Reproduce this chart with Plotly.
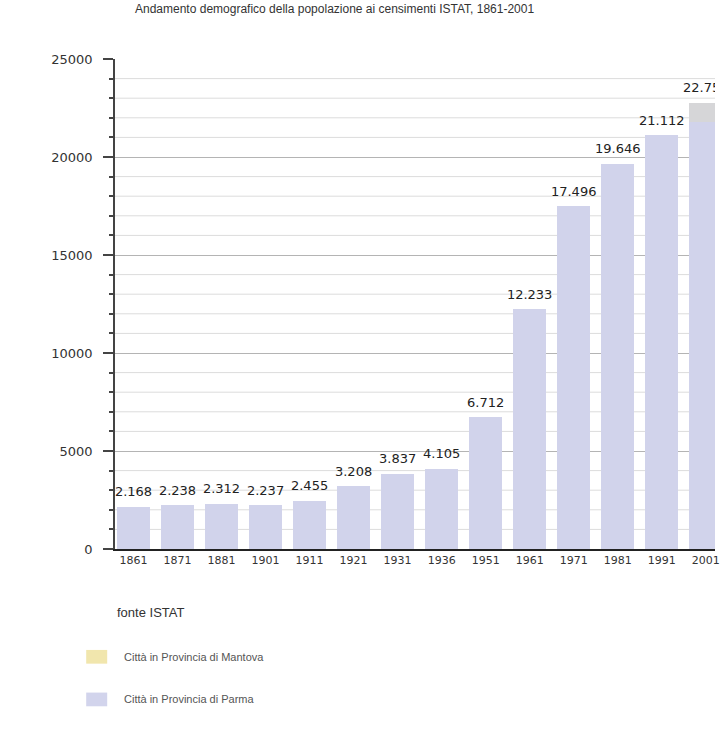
import plotly.graph_objects as go

# Censimenti ISTAT
anni = ["1861", "1871", "1881", "1901", "1911", "1921", "1931",
        "1936", "1951", "1961", "1971", "1981", "1991", "2001"]
popolazione = [2168, 2238, 2312, 2237, 2455, 3208, 3837,
               4105, 6712, 12233, 17496, 19646, 21112, 22757]
# quota superiore evidenziata in grigio (solo ultimo censimento)
quota_grigia = [0, 0, 0, 0, 0, 0, 0, 0, 0, 0, 0, 0, 0, 970]

y_ticks = [0, 5000, 10000, 15000, 20000, 25000]
legenda = ["Città in Provincia di Mantova", "Città in Provincia di Parma"]
colori_legenda = ["#f1e6ad", "#d2d4ec"]

LAVANDA = "#d1d3eb"
GRIGIO = "#d6d6d8"
FONT = "DejaVu Sans, Liberation Sans, Arial"

base = [p - g for p, g in zip(popolazione, quota_grigia)]
etichette = [f"{v:,}".replace(",", ".") for v in popolazione]

fig = go.Figure()
fig.add_trace(go.Bar(x=anni, y=base, marker=dict(color=LAVANDA, line_width=0),
                     hoverinfo="skip", showlegend=False))
fig.add_trace(go.Bar(x=anni, y=quota_grigia, marker=dict(color=GRIGIO, line_width=0),
                     hoverinfo="skip", showlegend=False))
# etichette dei valori sopra le barre (marker invisibile per distanziarle)
fig.add_trace(go.Scatter(x=anni, y=popolazione, mode="markers+text", text=etichette,
                         textposition="top center",
                         marker=dict(size=10, opacity=0),
                         textfont=dict(family=FONT, size=13, color="#222"),
                         hoverinfo="skip", showlegend=False))

# linee di griglia minori ogni 1000
for v in range(1000, 25000, 1000):
    if v % 5000:
        fig.add_hline(y=v, line=dict(color="#dcdcdc", width=1), layer="below")

fig.update_layout(
    width=720, height=734,
    margin=dict(l=115, r=0, t=59, b=185),
    paper_bgcolor="white", plot_bgcolor="white",
    barmode="stack", bargap=0.26,
    font=dict(family=FONT, color="#333"),
)
fig.update_xaxes(
    type="category", range=[-0.42, 13.21],
    showline=True, linecolor="#222", linewidth=2,
    ticks="", tickfont=dict(size=11, color="#333"),
    showgrid=False, fixedrange=True,
)
fig.update_yaxes(
    range=[0, 25000], tickvals=y_ticks, ticktext=[str(v) for v in y_ticks],
    showline=True, linecolor="#444", linewidth=1.5,
    ticks="outside", ticklen=10, tickcolor="#444", tickwidth=1.5,
    ticklabelstandoff=8,
    minor=dict(dtick=1000, ticks="outside", ticklen=4, tickcolor="#444", showgrid=False),
    showgrid=True, gridcolor="#b4b4b4", gridwidth=1,
    tickfont=dict(size=13, color="#333"), zeroline=False, fixedrange=True,
)

# titolo
fig.add_annotation(text="Andamento demografico della popolazione ai censimenti ISTAT, 1861-2001",
                   xref="paper", yref="paper", x=0.03, y=1.0, yshift=59,
                   xanchor="left", yanchor="top", showarrow=False,
                   font=dict(family="Liberation Sans, Arial", size=12, color="#333"))

# fonte e legenda
fig.add_annotation(text="fonte ISTAT", xref="paper", yref="paper",
                   x=0.0, y=-0.13, xanchor="left", yanchor="middle", showarrow=False,
                   font=dict(family="Liberation Sans, Arial", size=13, color="#333"))
leg_y = [-0.22, -0.307]
for nome, col, yy in zip(legenda, colori_legenda, leg_y):
    fig.add_shape(type="rect", xref="paper", yref="paper",
                  x0=-0.048, x1=-0.013, y0=yy - 0.014, y1=yy + 0.014,
                  fillcolor=col, line_width=0)
    fig.add_annotation(text=nome, xref="paper", yref="paper",
                       x=0.012, y=yy, xanchor="left", yanchor="middle", showarrow=False,
                       font=dict(family="Liberation Sans, Arial", size=11, color="#555"))

fig.write_html("out.html")
